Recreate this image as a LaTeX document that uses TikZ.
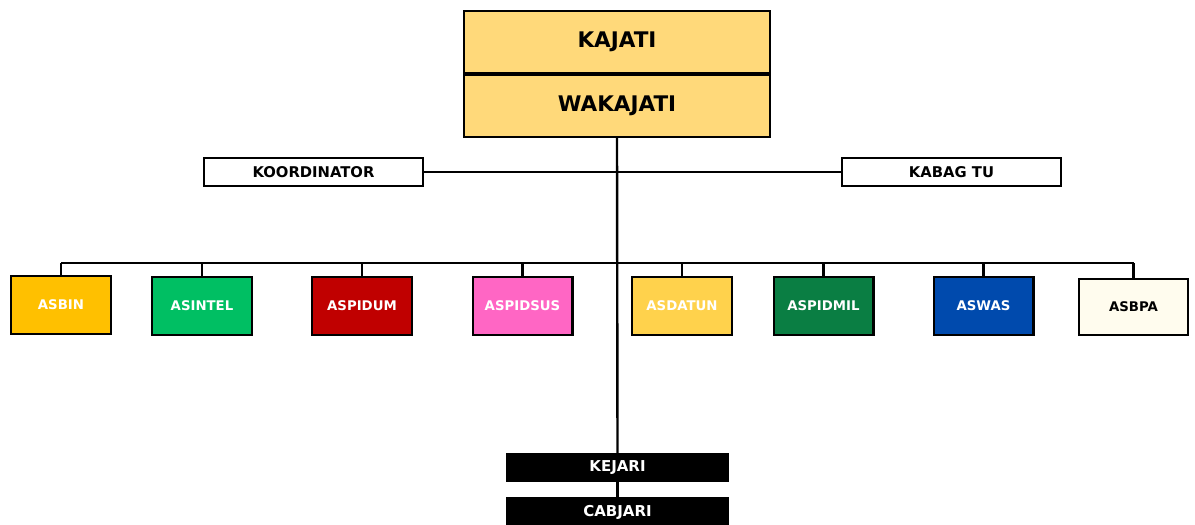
\documentclass[tikz,border=0pt]{standalone}
\usepackage{fontspec}
\setmainfont{DejaVu Sans}
\definecolor{headY}{HTML}{FFD97A}
\definecolor{cBin}{HTML}{FFC000}
\definecolor{cIntel}{HTML}{00BF63}
\definecolor{cPidum}{HTML}{C00000}
\definecolor{cPidsus}{HTML}{FF66C4}
\definecolor{cDatun}{HTML}{FFD24C}
\definecolor{cPidmil}{HTML}{0A7E43}
\definecolor{cWas}{HTML}{004AAD}
\definecolor{cBpa}{HTML}{FFFCEE}
\begin{document}
\begin{tikzpicture}[x=1pt,y=-1pt,
  lw/.style={line width=2.4pt},
  headbox/.style={draw, lw, fill=headY, minimum width=305.6pt, minimum height=61.6pt, inner sep=0pt, font=\bfseries\fontsize{21.5}{21.5}\selectfont},
  sidebox/.style={draw, lw, fill=white, minimum width=218.6pt, minimum height=27.6pt, inner sep=0pt, font=\bfseries\fontsize{14.8}{14.8}\selectfont},
  unitbox/.style={draw, lw, minimum width=99.6pt, minimum height=57.6pt, inner sep=0pt, text=white, font=\bfseries\fontsize{13.3}{13.3}\selectfont},
  darkbox/.style={fill=black, minimum width=223pt, minimum height=29pt, inner sep=0pt, text=white, font=\bfseries\fontsize{15}{15}\selectfont},
  conn/.style={lw}]
\useasboundingbox (0,0) rectangle (1195,525);
\fill[white] (0,0) rectangle (1195,525);
\node[headbox] (kajati) at (617,42) {KAJATI};
\node[headbox] (wakajati) at (617,106) {WAKAJATI};
\node[sidebox] (koord) at (313.5,172) {KOORDINATOR};
\node[sidebox] (kabag) at (951.5,172) {KABAG TU};
\node[unitbox, fill=cBin] (asbin) at (61,305) {ASBIN};
\node[unitbox, fill=cIntel] (asintel) at (202,306) {ASINTEL};
\node[unitbox, fill=cPidum] (aspidum) at (362,306) {ASPIDUM};
\node[unitbox, fill=cPidsus] (aspidsus) at (522.5,306) {ASPIDSUS};
\node[unitbox, fill=cDatun] (asdatun) at (682,306) {ASDATUN};
\node[unitbox, fill=cPidmil] (aspidmil) at (823.5,306) {ASPIDMIL};
\node[unitbox, fill=cWas] (aswas) at (983.5,306) {ASWAS};
\node[unitbox, fill=cBpa, text=black, minimum width=108.6pt, minimum height=55.6pt] (asbpa) at (1133.5,307) {ASBPA};
\node[darkbox] (kejari) at (617.5,467.5) {KEJARI};
\node[darkbox, minimum height=30pt] (cabjari) at (617.5,512) {CABJARI};
% connectors
\coordinate (busL) at (asbin.north |- 0,263);
\coordinate (busR) at (asbpa.north |- 0,263);
\draw[conn] (wakajati.south) -- (kejari.north);
\draw[conn] (kejari.south) -- (cabjari.north);
\draw[conn] (koord.east) -- (kabag.west);
\draw[conn] (busL) -- (busR);
\foreach \n in {asbin,asintel,aspidum,aspidsus,asdatun,aspidmil,aswas,asbpa}{
  \draw[conn] (\n.north) -- (\n.north |- busL);
}
\end{tikzpicture}
\end{document}
